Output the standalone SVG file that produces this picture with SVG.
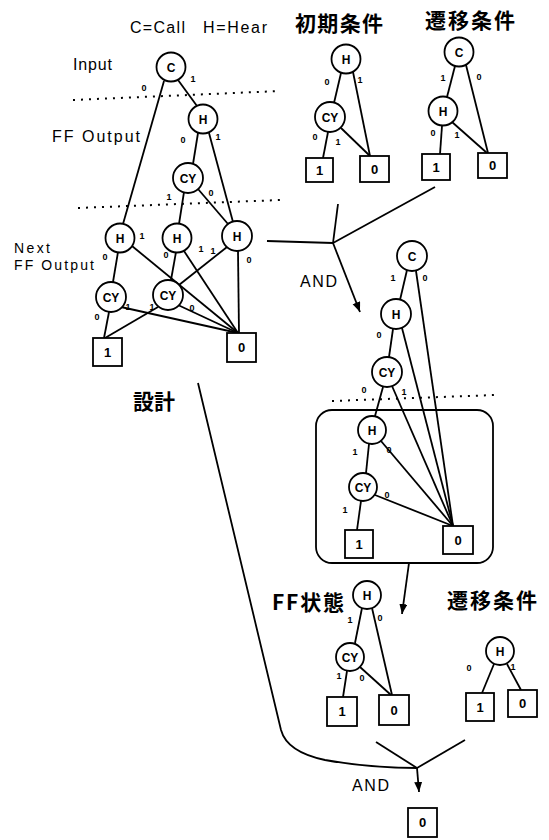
<svg xmlns="http://www.w3.org/2000/svg" width="549" height="840" viewBox="0 0 549 840">
<style>
.n circle{fill:#fff;stroke:#000;stroke-width:1.8}
.n rect{fill:#fff;stroke:#000;stroke-width:1.8}
.n text{font-family:"Liberation Sans",Arial,sans-serif;font-size:12px;font-weight:bold;text-anchor:middle;fill:#000}
.b text{font-size:13px}
.e line,.e path{stroke:#000;stroke-width:1.8;fill:none}
.lab{font-family:"Liberation Sans",Arial,sans-serif;font-size:9px;font-weight:bold;text-anchor:middle;fill:#000}
.t{font-family:"Liberation Sans",Arial,sans-serif;font-size:16px;fill:#000}
.s{font-size:14px}
.j{font-family:"Noto Sans CJK JP","Noto Sans CJK SC",sans-serif;font-size:21px;font-weight:bold;fill:#000}
.dot{stroke:#000;stroke-width:2;stroke-dasharray:2 6;fill:none}
</style>
<defs>
<marker id="ah" markerUnits="userSpaceOnUse" markerWidth="12" markerHeight="12" refX="10" refY="4" orient="auto">
<path d="M0,0 L10,4 L0,8 Z" fill="#000"/>
</marker>
</defs>
<rect width="549" height="840" fill="#fff"/>

<!-- titles -->
<g id="titles">
<text class="t" x="130" y="33" textLength="55">C=Call</text>
<text class="t" x="203" y="33" textLength="64">H=Hear</text>
<text class="t" x="73" y="70" textLength="39">Input</text>
<text class="t" x="52" y="142" textLength="88">FF Output</text>
<text class="t s" x="14" y="253" textLength="36">Next</text>
<text class="t s" x="14" y="270" textLength="80">FF Output</text>
<text class="j" x="295" y="31" textLength="88">初期条件</text>
<text class="j" x="425" y="28" textLength="90">遷移条件</text>
<text class="j" x="133" y="409" textLength="42">設計</text>
<text class="j" x="272" y="610" textLength="72">FF状態</text>
<text class="j" x="447" y="608" textLength="90">遷移条件</text>
<text class="t" x="300" y="287" textLength="37">AND</text>
<text class="t" x="352" y="791" textLength="37">AND</text>
</g>

<!-- dotted separators -->
<g id="separators">
<line class="dot" x1="73" y1="100" x2="280" y2="91"/>
<line class="dot" x1="78" y1="208" x2="280" y2="200"/>
<line class="dot" x1="332" y1="401" x2="495" y2="395"/>
</g>

<!-- connectors -->
<g id="connectors" class="e">
<!-- left tree -->
<line x1="164" y1="81" x2="123" y2="224"/>
<line x1="178" y1="80" x2="197" y2="106"/>
<line x1="198" y1="133" x2="193" y2="164"/>
<line x1="209" y1="133" x2="233" y2="222"/>
<line x1="184" y1="192" x2="179" y2="224"/>
<line x1="198" y1="189" x2="228" y2="224"/>
<line x1="118" y1="252" x2="113" y2="282"/>
<line x1="132" y1="246" x2="238" y2="333"/>
<line x1="176" y1="252" x2="171" y2="280"/>
<line x1="184" y1="251" x2="238" y2="333"/>
<line x1="227" y1="247" x2="179" y2="285"/>
<line x1="238" y1="251" x2="239" y2="333"/>
<line x1="109" y1="312" x2="104" y2="338"/>
<line x1="121" y1="307" x2="238" y2="333"/>
<line x1="158" y1="307" x2="105" y2="338"/>
<line x1="178" y1="305" x2="238" y2="333"/>
<!-- initial condition tree -->
<line x1="341" y1="73" x2="334" y2="103"/>
<line x1="353" y1="72" x2="370" y2="156"/>
<line x1="328" y1="132" x2="323" y2="158"/>
<line x1="341" y1="128" x2="370" y2="156"/>
<!-- transition tree top -->
<line x1="455" y1="66" x2="447" y2="97"/>
<line x1="466" y1="65" x2="488" y2="153"/>
<line x1="442" y1="126" x2="440" y2="154"/>
<line x1="452" y1="122" x2="487" y2="153"/>
<!-- AND junction top -->
<line x1="267" y1="241" x2="333" y2="243"/>
<line x1="338" y1="204" x2="333" y2="243"/>
<line x1="333" y1="243" x2="435" y2="187"/>
<line x1="333" y1="243" x2="360" y2="312" marker-end="url(#ah)"/>
<!-- middle tree -->
<line x1="407" y1="270" x2="400" y2="300"/>
<line x1="416" y1="271" x2="453" y2="526"/>
<line x1="393" y1="329" x2="389" y2="357"/>
<line x1="402" y1="328" x2="453" y2="526"/>
<line x1="383" y1="387" x2="375" y2="416"/>
<line x1="392" y1="386" x2="453" y2="526"/>
<line x1="369" y1="444" x2="366" y2="473"/>
<line x1="381" y1="441" x2="453" y2="526"/>
<line x1="361" y1="501" x2="357" y2="530"/>
<line x1="375" y1="495" x2="453" y2="526"/>
<!-- arrow from box -->
<line x1="409" y1="563" x2="402" y2="614" marker-end="url(#ah)"/>
<!-- FF state tree -->
<line x1="362" y1="608" x2="355" y2="643"/>
<line x1="372" y1="608" x2="392" y2="695"/>
<line x1="347" y1="671" x2="343" y2="697"/>
<line x1="360" y1="667" x2="391" y2="695"/>
<!-- transition tree bottom -->
<line x1="494" y1="664" x2="482" y2="693"/>
<line x1="507" y1="664" x2="521" y2="690"/>
<!-- design curve & AND junction bottom -->
<path d="M198,383 L281,730 Q287,752 325,760 Q370,768 417,768"/>
<line x1="376" y1="742" x2="417" y2="768"/>
<line x1="417" y1="768" x2="465" y2="740"/>
<line x1="417" y1="768" x2="419" y2="792" marker-end="url(#ah)"/>
</g>

<!-- rounded frame -->
<g id="frame">
<rect x="316" y="410" width="177" height="153" rx="16" fill="none" stroke="#000" stroke-width="1.8"/>
</g>

<!-- edge labels -->
<g id="edge-labels" class="lab">
<text x="144" y="91">0</text><text x="193" y="82">1</text>
<text x="183" y="143">0</text><text x="218" y="140">1</text>
<text x="169" y="200">1</text><text x="211" y="196">0</text>
<text x="105" y="260">0</text><text x="142" y="239">1</text>
<text x="166" y="258">0</text><text x="201" y="252">1</text>
<text x="213" y="254">1</text><text x="249" y="263">0</text>
<text x="97" y="320">0</text><text x="128" y="310">1</text>
<text x="152" y="310">1</text><text x="192" y="311">0</text>
<text x="327" y="85">0</text><text x="360" y="83">1</text>
<text x="315" y="140">0</text><text x="338" y="145">1</text>
<text x="443" y="81">1</text><text x="479" y="80">0</text>
<text x="433" y="136">0</text><text x="457" y="138">1</text>
<text x="393" y="281">1</text><text x="425" y="281">0</text>
<text x="379" y="338">0</text>
<text x="364" y="393">0</text><text x="404" y="395">1</text>
<text x="355" y="455">1</text><text x="389" y="453">0</text>
<text x="345" y="513">1</text><text x="387" y="498">0</text>
<text x="350" y="623">1</text><text x="380" y="621">0</text>
<text x="339" y="679">1</text><text x="362" y="681">0</text>
<text x="469" y="671">0</text><text x="513" y="670">1</text>
</g>

<!-- left design tree nodes -->
<g id="L_C" class="n"><circle cx="171" cy="67" r="14.5"/><text x="171" y="71.5">C</text></g>
<g id="L_H1" class="n"><circle cx="203" cy="119" r="14.5"/><text x="203" y="123.5">H</text></g>
<g id="L_CY1" class="n"><circle cx="188" cy="178" r="15"/><text x="188" y="182.5">CY</text></g>
<g id="L_H2" class="n"><circle cx="120" cy="238" r="14.5"/><text x="120" y="242.5">H</text></g>
<g id="L_H3" class="n"><circle cx="177" cy="238" r="14.5"/><text x="177" y="242.5">H</text></g>
<g id="L_H4" class="n"><circle cx="237" cy="236" r="15"/><text x="237" y="240.5">H</text></g>
<g id="L_CY2" class="n"><circle cx="111" cy="297" r="15"/><text x="111" y="301.5">CY</text></g>
<g id="L_CY3" class="n"><circle cx="168" cy="295" r="15"/><text x="168" y="299.5">CY</text></g>
<g id="L_B1" class="n b"><rect x="93" y="338" width="29" height="28"/><text x="107.5" y="357">1</text></g>
<g id="L_B0" class="n b"><rect x="227" y="333" width="29" height="29"/><text x="241.5" y="352">0</text></g>

<!-- initial condition tree -->
<g id="I_H" class="n"><circle cx="346" cy="59" r="14.5"/><text x="346" y="63.5">H</text></g>
<g id="I_CY" class="n"><circle cx="330" cy="117" r="15"/><text x="330" y="121.5">CY</text></g>
<g id="I_B1" class="n b"><rect x="306" y="158" width="27" height="24"/><text x="319.5" y="175">1</text></g>
<g id="I_B0" class="n b"><rect x="360" y="156" width="29" height="26"/><text x="374.5" y="174">0</text></g>

<!-- transition condition tree (top) -->
<g id="T_C" class="n"><circle cx="459" cy="52" r="14.5"/><text x="459" y="56.5">C</text></g>
<g id="T_H" class="n"><circle cx="443" cy="111" r="14.5"/><text x="443" y="115.5">H</text></g>
<g id="T_B1" class="n b"><rect x="422" y="154" width="28" height="26"/><text x="436" y="172">1</text></g>
<g id="T_B0" class="n b"><rect x="478" y="153" width="29" height="25"/><text x="492.5" y="170">0</text></g>

<!-- middle AND result tree -->
<g id="M_C" class="n"><circle cx="412" cy="256" r="15"/><text x="412" y="260.5">C</text></g>
<g id="M_H" class="n"><circle cx="396" cy="314" r="15"/><text x="396" y="318.5">H</text></g>
<g id="M_CY" class="n"><circle cx="387" cy="372" r="15"/><text x="387" y="376.5">CY</text></g>
<g id="M_H2" class="n"><circle cx="372" cy="430" r="14"/><text x="372" y="434.5">H</text></g>
<g id="M_CY2" class="n"><circle cx="363" cy="487" r="14"/><text x="363" y="491.5">CY</text></g>
<g id="M_B1" class="n b"><rect x="345" y="530" width="28" height="28"/><text x="359" y="549">1</text></g>
<g id="M_B0" class="n b"><rect x="443" y="526" width="30" height="28"/><text x="458" y="545">0</text></g>

<!-- FF state tree -->
<g id="F_H" class="n"><circle cx="367" cy="595" r="14"/><text x="367" y="599.5">H</text></g>
<g id="F_CY" class="n"><circle cx="350" cy="657" r="14"/><text x="350" y="661.5">CY</text></g>
<g id="F_B1" class="n b"><rect x="327" y="697" width="30" height="29"/><text x="342" y="716">1</text></g>
<g id="F_B0" class="n b"><rect x="379" y="695" width="30" height="30"/><text x="394" y="715">0</text></g>

<!-- transition condition tree (bottom) -->
<g id="B_H" class="n"><circle cx="500" cy="651" r="14"/><text x="500" y="655.5">H</text></g>
<g id="B_B1" class="n b"><rect x="466" y="693" width="28" height="28"/><text x="480" y="712">1</text></g>
<g id="B_B0" class="n b"><rect x="508" y="690" width="29" height="27"/><text x="522.5" y="708">0</text></g>

<!-- final result -->
<g id="R_B0" class="n b"><rect x="408" y="808" width="29" height="29"/><text x="422.5" y="827">0</text></g>
</svg>
